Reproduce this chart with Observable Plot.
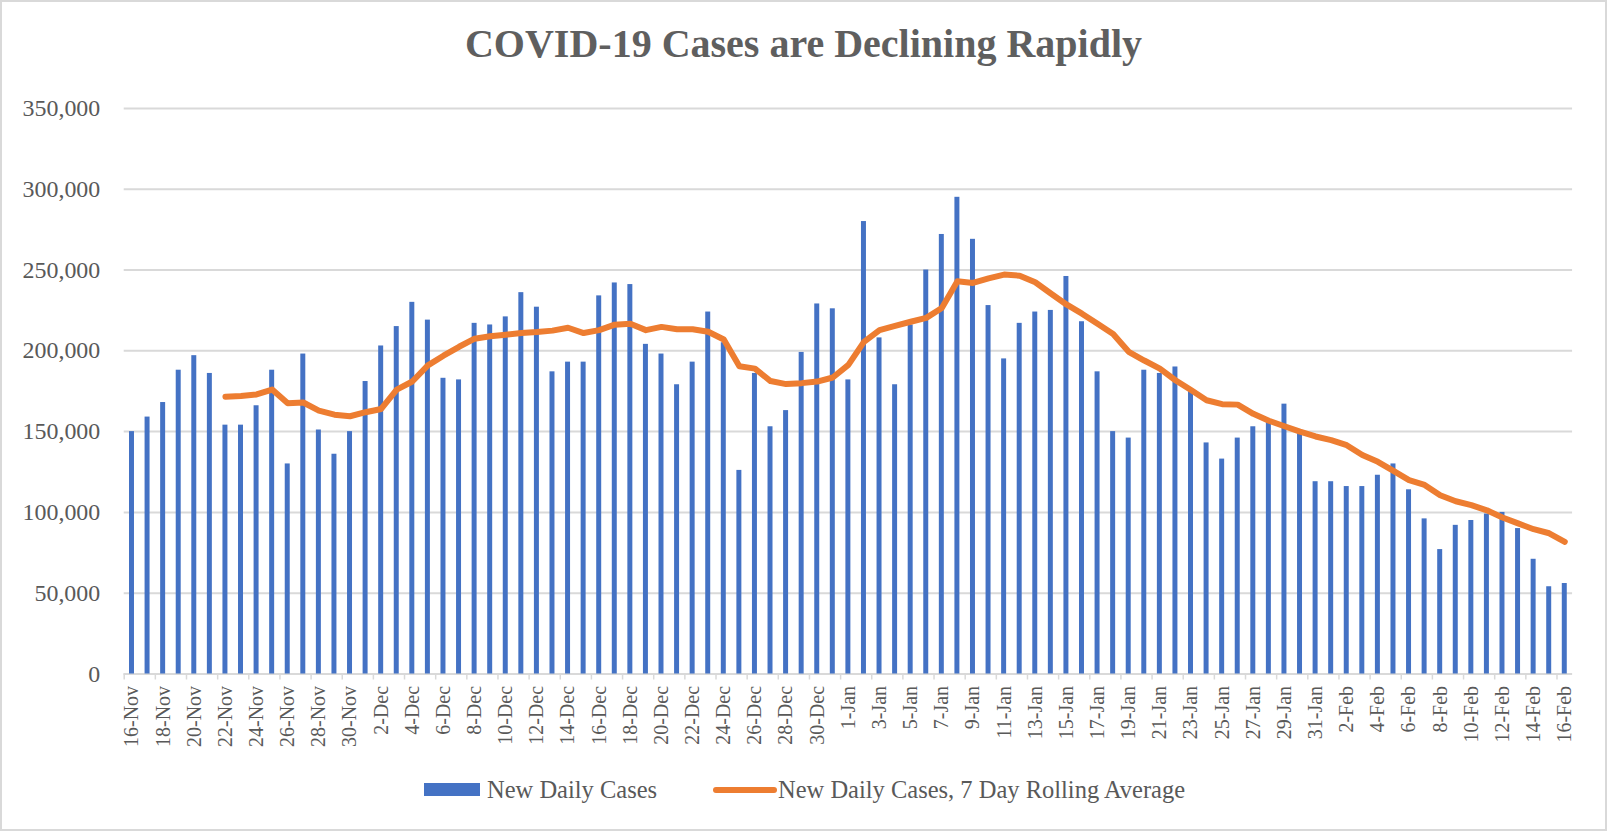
<!DOCTYPE html>
<html>
<head>
<meta charset="utf-8">
<script src="https://cdn.jsdelivr.net/npm/d3@7"></script>
<script src="https://cdn.jsdelivr.net/npm/@observablehq/plot@0.6"></script>
<style>
  html, body { margin: 0; padding: 0; background: #fff; }
  #frame { position: relative; width: 1607px; height: 831px; box-sizing: border-box; border: 2px solid #d9d9d9; overflow: hidden; font-family: "Liberation Serif", "Times New Roman", serif; color: #595959; }
  #title { position: absolute; left: 0; right: 0; top: 22px; text-align: center; font-size: 40px; line-height: 40px; font-weight: bold; color: #5f5f5f; }
  #chart { position: absolute; left: -2px; top: 78px; }
  .leg { position: absolute; top: 776px; font-size: 24.5px; line-height: 24.5px; color: #595959; white-space: nowrap; }
  .sw-bar { position: absolute; width: 56px; height: 13px; background: #4472C4; }
  .sw-line { position: absolute; width: 64px; height: 6px; border-radius: 3px; background: #ED7D31; }
</style>
</head>
<body>
<div id="frame">
  <div id="title">COVID-19 Cases are Declining Rapidly</div>
  <div id="chart"></div>
  <div class="sw-bar" style="left:422px; top:781px;"></div>
  <div class="leg" style="left:485px;">New Daily Cases</div>
  <div class="sw-line" style="left:711px; top:785px;"></div>
  <div class="leg" style="left:776px;">New Daily Cases, 7 Day Rolling Average</div>
</div>
<script>
// Categories: every day from 16-Nov to 16-Feb
const dates = d3.timeDay.range(new Date(2020, 10, 16), new Date(2021, 1, 17)).map(d3.timeFormat("%-d-%b"));

// New daily cases (16-Nov .. 16-Feb)
const dailyNov = [150000, 159000, 168000, 188000, 197000, 186000, 154000, 154000, 166000, 188000,
  130000, 198000, 151000, 136000, 150000];
const dailyDec = [181000, 203000, 215000, 230000, 219000, 183000, 182000, 217000, 216000, 221000,
  236000, 227000, 187000, 193000, 193000, 234000, 242000, 241000, 204000, 198000,
  179000, 193000, 224000, 205000, 126000, 186000, 153000, 163000, 199000, 229000, 226000];
const dailyJan = [182000, 280000, 208000, 179000, 216000, 250000, 272000, 295000, 269000, 228000,
  195000, 217000, 224000, 225000, 246000, 218000, 187000, 150000, 146000, 188000,
  186000, 190000, 175000, 143000, 133000, 146000, 153000, 156000, 167000, 150000, 119000];
const dailyFeb = [119000, 116000, 116000, 123000, 130000, 114000, 96000, 77000, 92000, 95000,
  99000, 100000, 90000, 71000, 54000, 56000];

// 7 day rolling average (starts 22-Nov)
const avgNov = [null, null, null, null, null, null, 171600, 172000, 173000, 176000,
  167500, 168000, 163000, 160500, 159500];
const avgDec = [162000, 164000, 176000, 181000, 191000, 197000, 202500, 207500, 209000, 210000,
  211000, 211600, 212500, 214300, 211000, 212800, 216200, 216700, 212800, 214800,
  213300, 213300, 211800, 207000, 190400, 189000, 181300, 179400, 180000, 181000, 183500];
const avgJan = [191300, 205500, 212800, 215500, 218000, 220400, 226500, 243000, 242000, 244800,
  247200, 246500, 242400, 235500, 228700, 223000, 216700, 210400, 199400, 194000,
  189000, 181800, 175700, 169400, 167000, 166700, 161000, 156700, 153300, 150000, 147000];
const avgFeb = [144700, 141600, 135500, 131300, 125700, 120000, 117000, 110600, 106900, 104500,
  101300, 96900, 93200, 89600, 87100, 81800];

const yTicks = [0, 50000, 100000, 150000, 200000, 250000, 300000, 350000];
const xTickLabels = dates.filter((d, i) => i % 2 === 0);

const daily = [...dailyNov, ...dailyDec, ...dailyJan, ...dailyFeb];
const avg = [...avgNov, ...avgDec, ...avgJan, ...avgFeb];
const rows = dates.map((date, i) => ({date, cases: daily[i], avg: avg[i]}));

const W = 1609, mL = 124, mR = 33;
const step = (W - mL - mR) / dates.length;

const chart = Plot.plot({
  width: W,
  height: 692,
  marginLeft: mL,
  marginRight: mR,
  marginTop: 28,
  marginBottom: 97,
  style: {fontFamily: "'Liberation Serif', 'Times New Roman', serif", color: "#595959", background: "transparent", overflow: "visible"},
  x: {type: "band", domain: dates, paddingInner: 0.68, paddingOuter: 0.34, align: 0.5},
  y: {domain: [0, 350000]},
  marks: [
    Plot.gridY(yTicks, {stroke: "#d9d9d9", strokeOpacity: 1, strokeWidth: 2}),
    Plot.ruleY([0], {stroke: "#d9d9d9", strokeWidth: 2}),
    Plot.barY(rows, {x: "date", y: "cases", fill: "#4472C4"}),
    Plot.lineY(rows, {x: "date", y: "avg", stroke: "#ED7D31", strokeWidth: 6, strokeLinejoin: "round", strokeLinecap: "round", curve: "linear"}),
    Plot.axisY({ticks: yTicks, tickSize: 0, tickPadding: 24, tickFormat: d3.format(","), fontSize: 24, fill: "#595959", label: null}),
    Plot.axisX({ticks: xTickLabels, tickSize: 6, tickFormat: () => "", stroke: "#d9d9d9", strokeWidth: 1.5, dx: -step / 2, label: null}),
    Plot.axisX({ticks: xTickLabels, tickSize: 0, tickPadding: 12, tickRotate: -90, fontSize: 20, fill: "#595959", label: null})
  ]
});
document.getElementById("chart").appendChild(chart);
</script>
</body>
</html>
